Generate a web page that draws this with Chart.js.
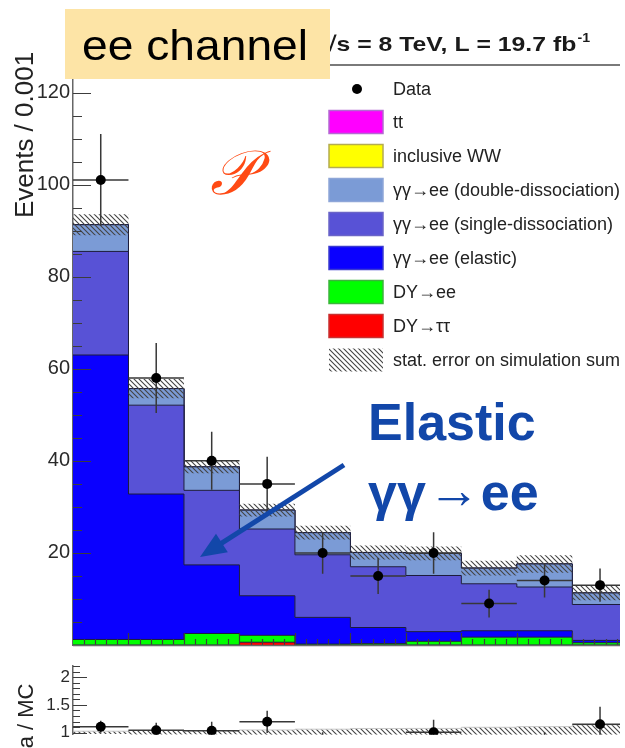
<!DOCTYPE html>
<html>
<head>
<meta charset="utf-8">
<title>ee channel</title>
<script src="https://cdn.jsdelivr.net/npm/chart.js@4.4.1/dist/chart.umd.min.js"></script>
<style>
  html, body { margin: 0; padding: 0; background: #fff; overflow: hidden; }
  body { width: 625px; height: 748px; position: relative; }
  canvas { position: absolute; left: 0; }
  #ratioChart { top: 653px; }
  #mainChart { top: 0; }
</style>
</head>
<body>
<canvas id="ratioChart" width="625" height="95"></canvas>
<canvas id="mainChart" width="625" height="660"></canvas>
<script>
// 10 bins of width 0.001
const binEdges = [0, 0.001, 0.002, 0.003, 0.004, 0.005, 0.006, 0.007, 0.008, 0.009, 0.01];

const dataCounts = [101, 58, 40, 35, 20, 15, 20, 9, 14, 13];
const dataErr = [10.0, 7.6, 6.3, 5.9, 4.5, 3.9, 4.5, 3.0, 3.7, 3.6];

// simulation, stacked bottom to top
const dyTauTau = [0, 0, 0, 0.6, 0, 0, 0, 0, 0, 0];
const dyEE = [1.2, 1.2, 2.5, 1.5, 0.2, 0.3, 0.8, 1.7, 1.7, 0.5];
const ggElastic = [61.8, 31.6, 14.9, 8.6, 5.8, 3.5, 2.1, 1.4, 1.4, 0.5];
const ggSingle = [22.5, 19.3, 16.2, 14.5, 13.6, 13.2, 12.2, 10.2, 9.5, 7.8];
const ggDouble = [5.8, 3.6, 5.1, 4.1, 4.8, 3.1, 4.8, 3.4, 5.0, 2.5];
const inclusiveWW = [0, 0, 0, 0, 0, 0, 0, 0, 0, 0];
const ttbar = [0, 0, 0, 0, 0, 0, 0, 0, 0, 0];
const simStatErr = [2.3, 2.1, 1.4, 1.4, 1.5, 1.5, 1.5, 1.6, 1.9, 1.6];

const yTicksMain = [20, 40, 60, 80, 100, 120];
const yTicksRatio = [1, 1.5, 2];

const FONT = '"Liberation Sans", Arial, Helvetica, sans-serif';
Chart.defaults.font.family = FONT;
Chart.defaults.color = '#2a2a2a';

const layers = [
  { label: 'DY\u2192\u03c4\u03c4', values: dyTauTau, color: '#ff0000', edge: '#c83030' },
  { label: 'DY\u2192ee', values: dyEE, color: '#00ff00', edge: '#3cb43c' },
  { label: '\u03b3\u03b3\u2192ee (elastic)', values: ggElastic, color: '#0a00ff', edge: '#3a3ad0' },
  { label: '\u03b3\u03b3\u2192ee (single-dissociation)', values: ggSingle, color: '#5852d6', edge: '#6a64c8' },
  { label: '\u03b3\u03b3\u2192ee (double-dissociation)', values: ggDouble, color: '#7b9bd6', edge: '#8ea6d8' },
  { label: 'inclusive WW', values: inclusiveWW, color: '#ffff00', edge: '#b4ac50' },
  { label: 'tt', values: ttbar, color: '#ff00ff', edge: '#b46ad2' },
];

const centers = dataCounts.map((_, i) => (binEdges[i] + binEdges[i + 1]) / 2);
const simTotal = dataCounts.map((_, i) => layers.reduce((s, l) => s + l.values[i], 0));
const ratio = dataCounts.map((d, i) => d / simTotal[i]);
const ratioErr = dataErr.map((e, i) => e / simTotal[i]);
const ratioBand = simStatErr.map((e, i) => e / simTotal[i]);

// histogram outline: one point per bin edge, last bin repeated on the closing edge
function steps(values) {
  return binEdges.map((x, i) => ({ x, y: values[Math.min(i, values.length - 1)] }));
}

function makeHatch(color) {
  const n = 5;
  const c = document.createElement('canvas');
  c.width = n; c.height = n;
  const g = c.getContext('2d');
  g.strokeStyle = color;
  g.lineWidth = 1.1;
  g.beginPath();
  g.moveTo(0, 0); g.lineTo(n, n);
  g.moveTo(-n / 2, n / 2); g.lineTo(n / 2, n * 1.5);
  g.moveTo(n / 2, -n / 2); g.lineTo(n * 1.5, n / 2);
  g.stroke();
  return g.createPattern(c, 'repeat');
}
const hatch = makeHatch('#444');

// error bars for datasets carrying a yErr array
const errorBars = {
  id: 'errorBars',
  beforeDatasetDraw(chart, args) {
    const ds = chart.data.datasets[args.index];
    if (!ds.yErr) return;
    const { ctx, chartArea: a } = chart;
    const xs = chart.scales.x, ys = chart.scales[ds.yAxisID];
    ctx.save();
    ctx.beginPath();
    ctx.rect(a.left, a.top, a.right - a.left, a.bottom - a.top);
    ctx.clip();
    ctx.strokeStyle = '#383838';
    ctx.lineWidth = 1.5;
    ctx.beginPath();
    ds.data.forEach((p, i) => {
      const px = xs.getPixelForValue(p.x);
      const py = ys.getPixelForValue(p.y);
      ctx.moveTo(xs.getPixelForValue(p.x - ds.xHalf), py);
      ctx.lineTo(xs.getPixelForValue(p.x + ds.xHalf), py);
      ctx.moveTo(px, ys.getPixelForValue(p.y + ds.yErr[i]));
      ctx.lineTo(px, ys.getPixelForValue(p.y - ds.yErr[i]));
    });
    ctx.stroke();
    ctx.restore();
  }
};

// ROOT-style ticks pointing into the frame
function axisTicks(cfg) {
  return {
    id: 'axisTicks',
    afterDatasetsDraw(chart) {
      const { ctx, chartArea: a, scales } = chart;
      const y = scales.y, x = scales.x;
      ctx.save();
      ctx.strokeStyle = '#3c3c3c';
      ctx.lineWidth = 1.2;
      ctx.beginPath();
      const k0 = Math.ceil(y.min / cfg.yMinor - 1e-6), k1 = Math.floor(y.max / cfg.yMinor + 1e-6);
      for (let k = k0; k <= k1; k++) {
        const v = k * cfg.yMinor;
        const r = v / cfg.yMajor;
        const major = Math.abs(r - Math.round(r)) < 1e-6;
        const py = Math.round(y.getPixelForValue(v)) + 0.5;
        ctx.moveTo(a.left, py);
        ctx.lineTo(a.left + (major ? cfg.yMajorLen : cfg.yMinorLen), py);
      }
      if (cfg.xMinor) {
        const j1 = Math.floor(x.max / cfg.xMinor + 1e-6);
        for (let j = 1; j <= j1; j++) {
          const v = j * cfg.xMinor;
          const r = v / cfg.xMajor;
          const major = Math.abs(r - Math.round(r)) < 1e-6;
          const px = Math.round(x.getPixelForValue(v)) + 0.5;
          ctx.moveTo(px, a.bottom);
          ctx.lineTo(px, a.bottom - (major ? cfg.xMajorLen : cfg.xMinorLen));
        }
      }
      ctx.stroke();
      if (cfg.bottomLine) {
        ctx.strokeStyle = '#6a6a6a';
        ctx.lineWidth = 1.5;
        ctx.beginPath();
        ctx.moveTo(a.left, a.bottom + 0.5);
        ctx.lineTo(a.right, a.bottom + 0.5);
        ctx.stroke();
      }
      ctx.restore();
    }
  };
}

function verticalTitle(ctx, text, x, y, size) {
  ctx.save();
  ctx.translate(x, y);
  ctx.rotate(-Math.PI / 2);
  ctx.font = size + 'px ' + FONT;
  ctx.fillStyle = '#222';
  ctx.textAlign = 'center';
  ctx.textBaseline = 'alphabetic';
  ctx.fillText(text, 0, 0);
  ctx.restore();
}

const annotations = {
  id: 'annotations',
  afterDraw(chart) {
    const ctx = chart.ctx;
    const a = chart.chartArea;
    ctx.save();

    // frame top
    ctx.strokeStyle = '#7a7a7a';
    ctx.lineWidth = 2;
    ctx.beginPath();
    ctx.moveTo(a.left, a.top);
    ctx.lineTo(a.right, a.top);
    ctx.stroke();

    verticalTitle(ctx, 'Events / 0.001', 33, 135, 26);

    // energy and luminosity
    ctx.fillStyle = '#1a1a1a';
    ctx.textBaseline = 'alphabetic';
    const lumi = '\u221as = 8 TeV, L = 19.7 fb';
    ctx.save();
    ctx.translate(323, 51);
    ctx.scale(1.18, 1);
    ctx.font = 'bold 21px ' + FONT;
    ctx.fillText(lumi, 0, 0);
    const lw = ctx.measureText(lumi).width;
    ctx.font = 'bold 12px ' + FONT;
    ctx.fillText('-1', lw + 1, -9);
    ctx.restore();

    // channel tag
    ctx.fillStyle = '#fde4a6';
    ctx.fillRect(65, 9, 265, 70);
    ctx.fillStyle = '#000';
    ctx.font = '42px ' + FONT;
    ctx.save();
    ctx.translate(82, 60);
    ctx.scale(1.1, 1);
    ctx.fillText('ee channel', 0, 0);
    ctx.restore();

    // script P
    ctx.fillStyle = '#ff4a14';
    ctx.font = 'italic 62px "DejaVu Serif", serif';
    ctx.fillText('\ud835\udcab', 210, 194);

    // legend
    ctx.font = '18px ' + FONT;
    ctx.textBaseline = 'middle';
    ctx.fillStyle = '#000';
    ctx.beginPath();
    ctx.arc(357, 89, 5, 0, Math.PI * 2);
    ctx.fill();
    ctx.fillStyle = '#222';
    ctx.fillText('Data', 393, 90);
    const rows = layers.slice().reverse();
    rows.forEach((l, i) => {
      const cy = 122 + i * 34;
      ctx.fillStyle = l.color;
      ctx.fillRect(329, cy - 11.5, 54, 23);
      ctx.strokeStyle = l.edge;
      ctx.lineWidth = 1.5;
      ctx.strokeRect(329, cy - 11.5, 54, 23);
      ctx.fillStyle = '#222';
      ctx.fillText(l.label, 393, cy + 1);
    });
    const hy = 122 + rows.length * 34;
    ctx.fillStyle = hatch;
    ctx.fillRect(329, hy - 11.5, 54, 23);
    ctx.fillStyle = '#222';
    ctx.fillText('stat. error on simulation sum', 393, hy + 1);

    // elastic callout
    const blue = '#1247a9';
    ctx.fillStyle = blue;
    ctx.textBaseline = 'alphabetic';
    ctx.font = 'bold 52px ' + FONT;
    ctx.fillText('Elastic', 368, 440);
    ctx.fillText('\u03b3\u03b3', 368, 510);
    let tx = 368 + ctx.measureText('\u03b3\u03b3').width + 2;
    ctx.font = '52px ' + FONT;
    ctx.fillText('\u2192', tx, 508);
    tx += ctx.measureText('\u2192').width + 1;
    ctx.font = 'bold 52px ' + FONT;
    ctx.fillText('ee', tx, 510);

    const x0 = 344, y0 = 465, x1 = 200, y1 = 557;
    const ang = Math.atan2(y1 - y0, x1 - x0);
    const headLen = 26, headHalf = 11;
    const bx = x1 - headLen * Math.cos(ang), by = y1 - headLen * Math.sin(ang);
    ctx.strokeStyle = blue;
    ctx.lineWidth = 5;
    ctx.beginPath();
    ctx.moveTo(x0, y0);
    ctx.lineTo(bx + 4 * Math.cos(ang), by + 4 * Math.sin(ang));
    ctx.stroke();
    ctx.beginPath();
    ctx.moveTo(x1, y1);
    ctx.lineTo(bx + headHalf * Math.sin(ang), by - headHalf * Math.cos(ang));
    ctx.lineTo(bx - headHalf * Math.sin(ang), by + headHalf * Math.cos(ang));
    ctx.closePath();
    ctx.fill();

    ctx.restore();
  }
};

const ratioTitle = {
  id: 'ratioTitle',
  afterDraw(chart) {
    verticalTitle(chart.ctx, 'Data / MC', 33, 80, 22);
  }
};

// ---- upper panel ----
const stackSets = layers.map((l, i) => ({
  label: l.label,
  data: steps(l.values),
  stepped: 'before',
  fill: i === 0 ? 'origin' : '-1',
  backgroundColor: l.color,
  borderColor: '#1c1c3c',
  borderWidth: 1,
  pointRadius: 0,
  yAxisID: 'y',
  order: 10,
}));

new Chart(document.getElementById('mainChart'), {
  type: 'line',
  data: {
    datasets: [
      ...stackSets,
      {
        label: 'stat lo',
        data: steps(simTotal.map((t, i) => t - simStatErr[i])),
        stepped: 'before', borderWidth: 0, pointRadius: 0, fill: false,
        yAxisID: 'yFree', order: 1,
      },
      {
        label: 'stat. error on simulation sum',
        data: steps(simTotal.map((t, i) => t + simStatErr[i])),
        stepped: 'before', borderWidth: 0, pointRadius: 0, fill: '-1',
        backgroundColor: hatch, yAxisID: 'yFree', order: 1,
      },
      {
        label: 'Data',
        data: centers.map((x, i) => ({ x, y: dataCounts[i] })),
        yErr: dataErr,
        xHalf: 0.0005,
        showLine: false,
        pointRadius: 5,
        pointBackgroundColor: '#000',
        pointBorderWidth: 0,
        yAxisID: 'yFree',
        order: 0,
      },
    ],
  },
  options: {
    responsive: false,
    animation: false,
    events: [],
    layout: { padding: { top: 65, bottom: 7, left: 0, right: 0 } },
    plugins: { legend: { display: false }, tooltip: { enabled: false } },
    scales: {
      x: { type: 'linear', min: 0, max: 0.00986, display: false },
      y: {
        stacked: true, min: 0, max: 126,
        afterFit: (s) => { s.width = 73; },
        afterBuildTicks: (s) => { s.ticks = yTicksMain.map((v) => ({ value: v })); },
        grid: { display: false, drawTicks: false },
        border: { color: '#666', width: 1.5 },
        ticks: { padding: 3, color: '#2a2a2a', font: { size: 20 }, callback: (v) => String(v) },
      },
      yFree: { display: false, min: 0, max: 126 },
    },
  },
  plugins: [errorBars, axisTicks({ yMinor: 5, yMajor: 20, yMajorLen: 18, yMinorLen: 9, xMinor: 0.0002, xMajor: 0.001, xMajorLen: 12, xMinorLen: 6, bottomLine: true }), annotations],
});

// ---- ratio panel ----
new Chart(document.getElementById('ratioChart'), {
  type: 'line',
  data: {
    datasets: [
      {
        label: 'band lo',
        data: steps(ratioBand.map((b) => 1 - b)),
        stepped: 'before', borderWidth: 0, pointRadius: 0, fill: false,
        yAxisID: 'y', order: 1,
      },
      {
        label: 'band hi',
        data: steps(ratioBand.map((b) => 1 + b)),
        stepped: 'before', borderWidth: 1, borderColor: '#c8c8c8', pointRadius: 0, fill: '-1',
        backgroundColor: hatch, yAxisID: 'y', order: 1,
      },
      {
        label: 'Data / MC',
        data: centers.map((x, i) => ({ x, y: ratio[i] })),
        yErr: ratioErr,
        xHalf: 0.0005,
        showLine: false,
        pointRadius: 5,
        pointBackgroundColor: '#000',
        pointBorderWidth: 0,
        yAxisID: 'y',
        order: 0,
      },
    ],
  },
  options: {
    responsive: false,
    animation: false,
    events: [],
    layout: { padding: { top: 1, bottom: 0, left: 0, right: 0 } },
    plugins: { legend: { display: false }, tooltip: { enabled: false } },
    scales: {
      x: { type: 'linear', min: 0, max: 0.00986, display: false },
      y: {
        min: 0.96, max: 2.2,
        afterFit: (s) => { s.width = 73; },
        afterBuildTicks: (s) => { s.ticks = yTicksRatio.map((v) => ({ value: v })); },
        grid: { display: false, drawTicks: false },
        border: { color: '#666', width: 1.5 },
        ticks: { padding: 3, color: '#2a2a2a', font: { size: 17 }, callback: (v) => String(v) },
      },
    },
  },
  plugins: [errorBars, axisTicks({ yMinor: 0.1, yMajor: 0.5, yMajorLen: 14, yMinorLen: 7 }), ratioTitle],
});
</script>
</body>
</html>
